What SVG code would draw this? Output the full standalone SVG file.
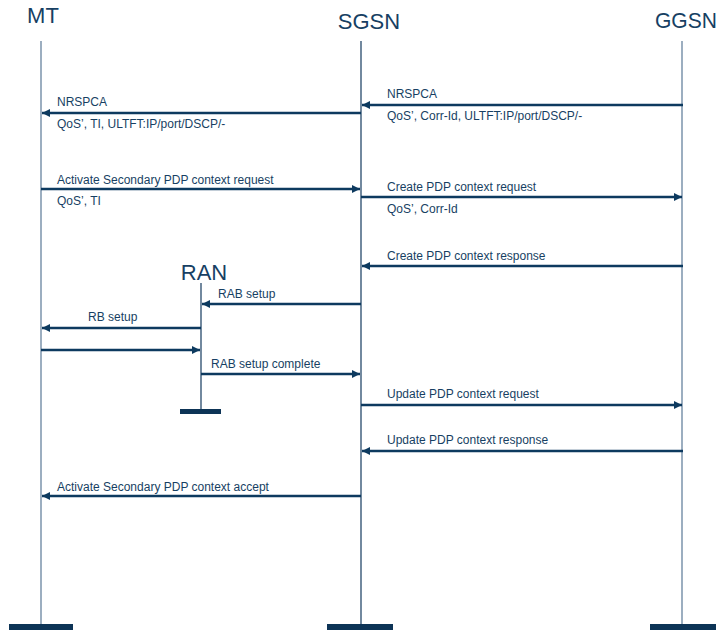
<svg xmlns="http://www.w3.org/2000/svg" width="719" height="630" viewBox="0 0 719 630">
<style>
.t{font-family:"Liberation Sans",Arial,sans-serif;font-size:12px;fill:#173f63}
.h{font-family:"Liberation Sans",Arial,sans-serif;font-size:22px;fill:#173f63}
.ll{stroke:#5a7896;stroke-width:1.2;fill:none}
.lld{stroke:#143a5e;stroke-width:1.2;fill:none}
.bar{fill:#0d3456}
.m{stroke:#0d3a5f;stroke-width:2.6;fill:none;marker-end:url(#ah)}
</style>
<defs>
<marker id="ah" markerUnits="userSpaceOnUse" markerWidth="9" markerHeight="9" refX="8" refY="4" orient="auto">
<path d="M0,0 L8,4 L0,8 z" fill="#0d3a5f"/>
</marker>
</defs>
<rect width="719" height="630" fill="#fff"/>
<g id="MT">
<text class="h" x="43" y="23" text-anchor="middle">MT</text>
<line class="ll" x1="41" y1="41" x2="41" y2="625"/>
<rect class="bar" x="9" y="624" width="64" height="6"/>
</g>
<g id="SGSN">
<text class="h" x="369" y="29" text-anchor="middle">SGSN</text>
<line class="lld" x1="361" y1="41" x2="361" y2="625"/>
<rect class="bar" x="327" y="624" width="66" height="6"/>
</g>
<g id="GGSN">
<text class="h" x="655" y="28" textLength="62" lengthAdjust="spacingAndGlyphs">GGSN</text>
<line class="ll" x1="682" y1="41" x2="682" y2="625"/>
<rect class="bar" x="650" y="624" width="66" height="6"/>
</g>
<g id="RAN">
<text class="h" x="204" y="280" text-anchor="middle">RAN</text>
<line class="lld" x1="201" y1="283" x2="201" y2="410"/>
<rect class="bar" x="180" y="409" width="41" height="5"/>
</g>
<g id="connectors">
<line class="m" x1="683" y1="105" x2="362" y2="105"/>
<line class="m" x1="361" y1="113" x2="42" y2="113"/>
<line class="m" x1="41" y1="189" x2="360" y2="189"/>
<line class="m" x1="361" y1="197" x2="682" y2="197"/>
<line class="m" x1="683" y1="266" x2="362" y2="266"/>
<line class="m" x1="361" y1="304" x2="202" y2="304"/>
<line class="m" x1="201" y1="328" x2="42" y2="328"/>
<line class="m" x1="41" y1="350" x2="200" y2="350"/>
<line class="m" x1="201" y1="374" x2="360" y2="374"/>
<line class="m" x1="361" y1="405" x2="682" y2="405"/>
<line class="m" x1="683" y1="451" x2="362" y2="451"/>
<line class="m" x1="361" y1="496" x2="42" y2="496"/>
</g>
<g id="labels">
<text class="t" x="387" y="98">NRSPCA</text>
<text class="t" x="387" y="120">QoS’, Corr-Id, ULTFT:IP/port/DSCP/-</text>
<text class="t" x="57" y="106">NRSPCA</text>
<text class="t" x="57" y="128">QoS’, TI, ULTFT:IP/port/DSCP/-</text>
<text class="t" x="57" y="184">Activate Secondary PDP context request</text>
<text class="t" x="57" y="205">QoS’, TI</text>
<text class="t" x="387" y="191">Create PDP context request</text>
<text class="t" x="387" y="213">QoS’, Corr-Id</text>
<text class="t" x="387" y="260">Create PDP context response</text>
<text class="t" x="218" y="298">RAB setup</text>
<text class="t" x="88" y="321">RB setup</text>
<text class="t" x="211" y="368">RAB setup complete</text>
<text class="t" x="387" y="398">Update PDP context request</text>
<text class="t" x="387" y="444">Update PDP context response</text>
<text class="t" x="57" y="491">Activate Secondary PDP context accept</text>
</g>
</svg>
